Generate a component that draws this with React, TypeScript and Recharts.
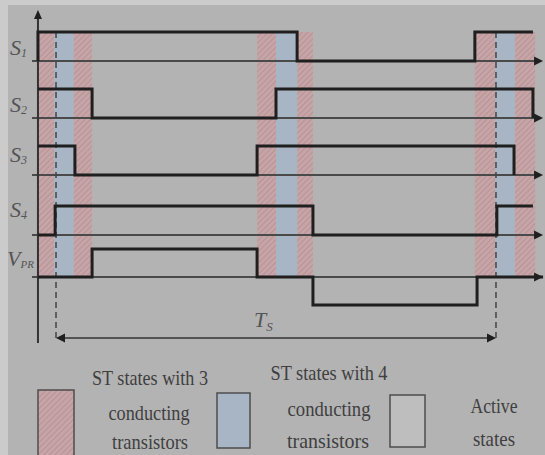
import { ComposedChart, Line, XAxis, YAxis, ReferenceArea, ReferenceLine, Scatter } from "recharts";

// time axis: one switching period Ts = 0..100
const T_MIN = -12.73;
const T_MAX = 111.14;
const PERIOD = [0, 100];

// shoot-through bands [start, end]
const ST3_BANDS = [[-4.1, -0.4], [4, 8.2], [45.7, 50], [54.8, 58.4], [95.2, 99.8], [104.3, 108.9]];
const ST4_BANDS = [[-0.4, 4], [50, 54.8], [99.8, 104.3]];

// switching signals: [time, level]
const S1 = [[-4.1, 0], [-4.1, 1], [54.8, 0], [95.2, 1], [108.4, 1]];
const S2 = [[-4.1, 1], [8.2, 0], [50, 1], [108.4, 0]];
const S3 = [[-4.1, 1], [4.3, 0], [45.7, 1], [104.1, 0]];
const S4 = [[-4.1, 0], [-0.2, 1], [58.4, 0], [100.2, 1], [108.4, 1]];
const VPR = [[-4.1, 0], [8.2, 1], [45.7, 0], [58.4, -1], [95.7, 0], [110.7, 0]];

const SIGNALS = [S1, S2, S3, S4, VPR];
const NAMES: [string, string][] = [["S", "1"], ["S", "2"], ["S", "3"], ["S", "4"], ["V", "PR"]];

const LEGEND = [
  { kind: "st3", lines: ["ST states with 3", "conducting", "transistors"] },
  { kind: "st4", lines: ["ST states with 4", "conducting", "transistors"] },
  { kind: "active", lines: ["Active", "states"] },
];

// layout (pixel rows)
const ROW_BASE = [61, 118, 175, 235, 277];
const LABEL_Y = [55, 112, 162, 217, 266];
const AMP = 29;
const BAND_TOP = 32;
const AXIS_T = -4.1;
const BASE_START = -5.45;
const BASE_END = 110.7;

const INK = "#1f1f1f";
const THIN = "#4a4a4a";
const LABEL = "#555";
const BLUE = "#a8b5c4";

const arrow = (dir: "right" | "left" | "up") => (p: any) => {
  const { cx, cy } = p;
  let d = "";
  if (dir === "right") d = `M${cx},${cy} L${cx - 9},${cy - 4.5} L${cx - 9},${cy + 4.5} Z`;
  if (dir === "left") d = `M${cx},${cy} L${cx + 9},${cy - 4.5} L${cx + 9},${cy + 4.5} Z`;
  if (dir === "up") d = `M${cx},${cy} L${cx - 4},${cy + 9} L${cx + 4},${cy + 9} Z`;
  return <path d={d} fill={INK} />;
};

const noDot = () => <g />;

function LegendSvg() {
  const boxes = [
    { x: 38, y: 390, w: 36, h: 70, fill: "url(#hatch)" },
    { x: 217, y: 393, w: 33, h: 55, fill: BLUE },
    { x: 390, y: 395, w: 35, h: 52, fill: "#bebebe" },
  ];
  const texts = [
    [
      { s: LEGEND[0].lines[0], cx: 150, w: 116, y: 385 },
      { s: LEGEND[0].lines[1], cx: 149, w: 81, y: 420 },
      { s: LEGEND[0].lines[2], cx: 150, w: 76, y: 449 },
    ],
    [
      { s: LEGEND[1].lines[0], cx: 329, w: 117, y: 380 },
      { s: LEGEND[1].lines[1], cx: 329, w: 83, y: 416 },
      { s: LEGEND[1].lines[2], cx: 328, w: 82, y: 448 },
    ],
    [
      { s: LEGEND[2].lines[0], cx: 494, w: 47, y: 413 },
      { s: LEGEND[2].lines[1], cx: 494, w: 42, y: 446 },
    ],
  ];
  return (
    <g>
      {boxes.map((b, i) => (
        <rect key={i} x={b.x} y={b.y} width={b.w} height={b.h} fill={b.fill} stroke="#4d4d4d" strokeWidth={1.5} />
      ))}
      {texts.flat().map((t, i) => (
        <text
          key={i}
          x={t.cx}
          y={t.y}
          textAnchor="middle"
          textLength={t.w}
          lengthAdjust="spacingAndGlyphs"
          fontFamily="'Liberation Serif', serif"
          fontSize={21}
          fill="#3f3f3f"
        >
          {t.s}
        </text>
      ))}
    </g>
  );
}

export default function App() {
  return (
    <div style={{ position: "absolute", left: 0, top: 0, width: 545, height: 455, background: "#b3b3b3", overflow: "hidden" }}>
      <div style={{ position: "absolute", left: 0, top: 0, width: 545, height: 5, background: "#cbcbcb" }} />
      <div style={{ position: "absolute", left: 0, top: 0, width: 8, height: 455, background: "#cbcbcb" }} />
      <div style={{ position: "absolute", left: 0, top: 0 }}>
        <ComposedChart width={545} height={455} margin={{ top: 0, right: 0, bottom: 0, left: 0 }}>
          <defs>
            <pattern id="hatch" width="4" height="4" patternUnits="userSpaceOnUse" patternTransform="rotate(45)">
              <rect width="4" height="4" fill="#c5a5a7" />
              <line x1="0" y1="0" x2="0" y2="4" stroke="#b68d90" strokeWidth="1.6" />
            </pattern>
          </defs>
          <XAxis dataKey="t" type="number" domain={[T_MIN, T_MAX]} hide allowDataOverflow />
          <YAxis type="number" domain={[0, 455]} reversed hide allowDataOverflow />
          {ST3_BANDS.map(([a, b], i) => (
            <ReferenceArea key={`r${i}`} x1={a} x2={b} y1={BAND_TOP} y2={ROW_BASE[4]} fill="url(#hatch)" fillOpacity={1} stroke="none" />
          ))}
          {ST4_BANDS.map(([a, b], i) => (
            <ReferenceArea key={`b${i}`} x1={a} x2={b} y1={BAND_TOP} y2={ROW_BASE[4]} fill={BLUE} fillOpacity={1} stroke="none" />
          ))}
          {ROW_BASE.map((y, i) => (
            <ReferenceLine key={`base${i}`} segment={[{ x: BASE_START, y }, { x: BASE_END - 1, y }]} stroke={THIN} strokeWidth={2} />
          ))}
          <ReferenceLine segment={[{ x: AXIS_T, y: 18 }, { x: AXIS_T, y: 343 }]} stroke="#333" strokeWidth={2} />
          {PERIOD.map((t, i) => (
            <ReferenceLine key={`d${i}`} segment={[{ x: t, y: BAND_TOP }, { x: t, y: 338 }]} stroke="#444" strokeWidth={1.5} strokeDasharray="6 4" />
          ))}
          <ReferenceLine segment={[{ x: PERIOD[0] + 1, y: 338 }, { x: PERIOD[1] - 1, y: 338 }]} stroke="#333" strokeWidth={1.5} />
          {SIGNALS.map((sig, i) => {
            const amp = i === 4 ? 28 : AMP;
            const data = sig.map(([t, v]) => ({ t, y: ROW_BASE[i] - v * amp }));
            return (
              <Line
                key={`s${i}`}
                data={data}
                dataKey="y"
                type="stepAfter"
                stroke={INK}
                strokeWidth={3}
                dot={noDot}
                activeDot={false}
                legendType="none"
                isAnimationActive={false}
              />
            );
          })}
          <Scatter data={ROW_BASE.map((y) => ({ t: BASE_END, y }))} dataKey="y" shape={arrow("right")} isAnimationActive={false} />
          <Scatter data={[{ t: AXIS_T, y: 10 }]} dataKey="y" shape={arrow("up")} isAnimationActive={false} />
          <Scatter data={[{ t: PERIOD[0], y: 338 }]} dataKey="y" shape={arrow("left")} isAnimationActive={false} />
          <Scatter data={[{ t: PERIOD[1], y: 338 }]} dataKey="y" shape={arrow("right")} isAnimationActive={false} />
          <g fontFamily="'Liberation Serif', serif" fontStyle="italic" fill={LABEL}>
            {NAMES.map(([m, sub], i) => (
              <text key={`n${i}`} x={i === 4 ? 7 : 10} y={LABEL_Y[i]} fontSize={22}>
                {m}
                <tspan fontSize={i === 4 ? 11 : 12} dy={2}>{sub}</tspan>
              </text>
            ))}
            <text x={254} y={327} fontSize={22}>
              T<tspan fontSize={13} dy={4}>S</tspan>
            </text>
          </g>
          <LegendSvg />
        </ComposedChart>
      </div>
    </div>
  );
}
